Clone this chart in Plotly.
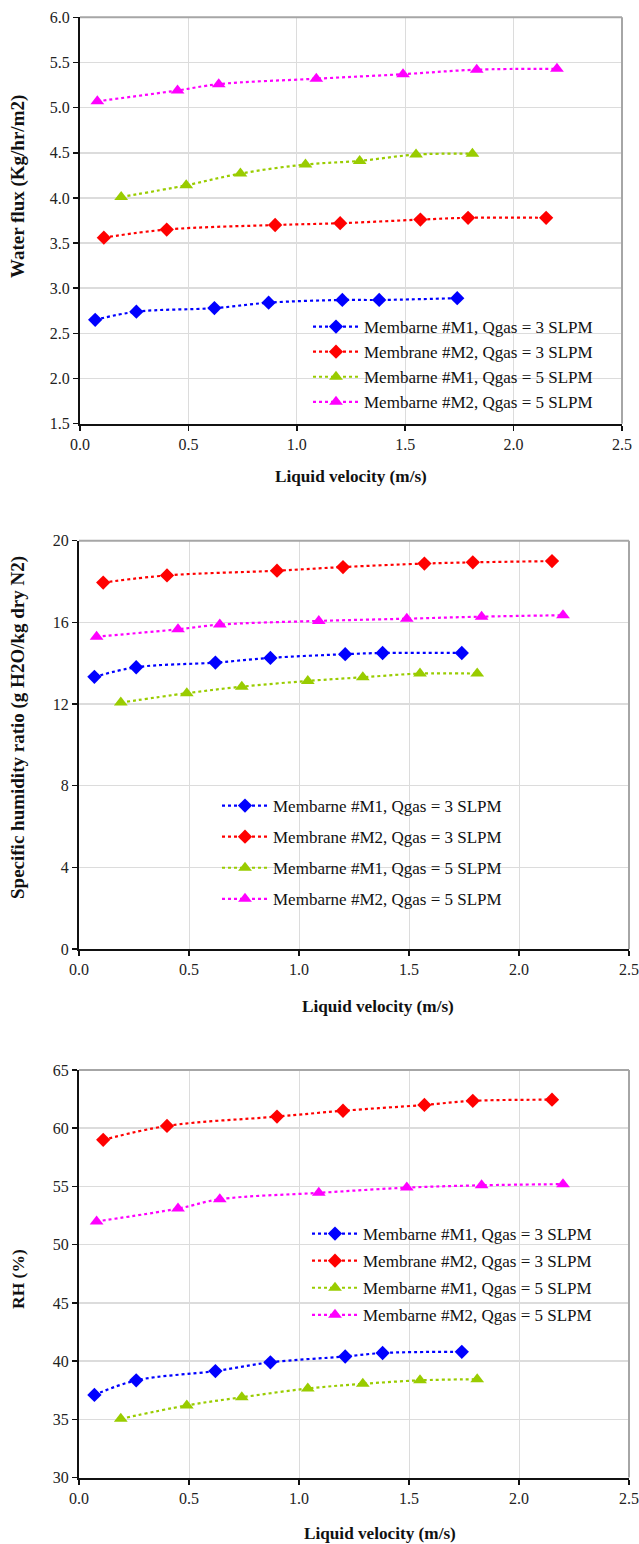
import plotly.graph_objects as go

W, H = 639, 1544

# ---------------- data ----------------
names = ["Membarne #M1, Qgas = 3 SLPM", "Membrane #M2, Qgas = 3 SLPM",
         "Membarne #M1, Qgas = 5 SLPM", "Membarne #M2, Qgas = 5 SLPM"]
colors = ["#0000FF", "#FF0000", "#99CC00", "#FF00FF"]
symbols = ["diamond", "diamond", "triangle-up", "triangle-up"]

x_m1_3 = [0.07, 0.26, 0.62, 0.87, 1.21, 1.38, 1.74]
x_m2_3 = [0.11, 0.40, 0.90, 1.20, 1.57, 1.79, 2.15]
x_m1_5 = [0.19, 0.49, 0.74, 1.04, 1.29, 1.55, 1.81]
x_m2_5 = [0.08, 0.45, 0.64, 1.09, 1.49, 1.83, 2.20]

flux_m1_3 = [2.65, 2.74, 2.78, 2.84, 2.87, 2.87, 2.89]
flux_m2_3 = [3.56, 3.65, 3.70, 3.72, 3.76, 3.78, 3.78]
flux_m1_5 = [4.01, 4.14, 4.27, 4.37, 4.41, 4.48, 4.49]
flux_m2_5 = [5.07, 5.19, 5.26, 5.32, 5.37, 5.42, 5.43]

hum_m1_3 = [13.33, 13.80, 14.03, 14.26, 14.44, 14.50, 14.50]
hum_m2_3 = [17.95, 18.30, 18.53, 18.71, 18.88, 18.94, 19.00]
hum_m1_5 = [12.07, 12.53, 12.85, 13.13, 13.31, 13.49, 13.49]
hum_m2_5 = [15.30, 15.66, 15.89, 16.07, 16.18, 16.28, 16.35]

rh_m1_3 = [37.1, 38.35, 39.15, 39.9, 40.4, 40.7, 40.8]
rh_m2_3 = [59.0, 60.2, 61.0, 61.5, 62.0, 62.35, 62.45]
rh_m1_5 = [35.05, 36.2, 36.9, 37.65, 38.05, 38.35, 38.45]
rh_m2_5 = [52.0, 53.1, 53.9, 54.45, 54.9, 55.1, 55.2]

x_title = "Liquid velocity (m/s)"
y_titles = ["Water flux (Kg/hr/m2)", "Specific humidity ratio (g H2O/kg dry N2)", "RH (%)"]

xs = [x_m1_3, x_m2_3, x_m1_5, x_m2_5]
panels = [
    [flux_m1_3, flux_m2_3, flux_m1_5, flux_m2_5],
    [hum_m1_3, hum_m2_3, hum_m1_5, hum_m2_5],
    [rh_m1_3, rh_m2_3, rh_m1_5, rh_m2_5],
]
y_ranges = [[1.5, 6.0], [0, 20], [30, 65]]
y_dticks = [0.5, 4, 5]
y_formats = [".1f", "d", "d"]

# ---------------- layout geometry (pixels) ----------------
def px(x):
    return x / W

def py(y):
    return 1 - y / H

plot_boxes = [  # left, right, top, bottom in px
    (80, 622, 17.3, 423.7),
    (79, 629, 540.7, 949.0),
    (79, 629, 1070.0, 1477.6),
]
legend_pos = [  # left, top, gap
    (308, 309, 0),
    (217, 788, 6),
    (307, 1216, 2),
]
legend_boxes = [  # white areas hiding gridlines: left, right, top, bottom
    (293, 619, 312, 413),
    (196, 526, 786, 913),
    (286, 617, 1220, 1331),
]
xtitle_pos = [(351, 476), (378, 1006), (380, 1533)]
ytitle_pos = [(18, 187), (18, 728), (18, 1279)]
ytitle_size = [19, 19, 17.5]

SERIF = "Liberation Serif"

fig = go.Figure()
layout = dict(width=W, height=H, margin=dict(l=0, r=0, t=0, b=0, autoexpand=False),
              paper_bgcolor="white", plot_bgcolor="white", showlegend=True,
              font=dict(family=SERIF, size=16, color="#111"))
shapes = []
annotations = []

for p in range(3):
    sfx = "" if p == 0 else str(p + 1)
    xa, ya = "x" + sfx, "y" + sfx
    leg = "legend" + sfx
    for i in range(4):
        fig.add_trace(go.Scatter(
            x=xs[i], y=panels[p][i], name=names[i], mode="lines+markers",
            xaxis=xa, yaxis=ya, legend=leg, legendgroup=f"p{p}_{i}",
            line=dict(color=colors[i], width=2.2, dash="3px,3px", shape="spline", smoothing=1.0),
            marker=dict(symbol=symbols[i], size=11 if symbols[i] == "diamond" else 12,
                        color=colors[i], line=dict(width=0)),
        ))
    l, r, t, b = plot_boxes[p]
    layout["xaxis" + sfx] = dict(
        domain=[px(l), px(r)], anchor=ya, range=[0, 2.5], dtick=0.5, tick0=0,
        tickformat=".1f", showgrid=True, gridcolor="#dcdcdc", gridwidth=1,
        showline=True, linecolor="#111", linewidth=2, ticks="outside", ticklen=5,
        tickcolor="#111", tickwidth=1.5, zeroline=False, automargin=False,
        tickfont=dict(family=SERIF, size=16, color="#222"), fixedrange=True)
    layout["yaxis" + sfx] = dict(
        domain=[py(b), py(t)], anchor=xa, range=y_ranges[p], dtick=y_dticks[p],
        tick0=y_ranges[p][0], tickformat=y_formats[p], showgrid=True,
        gridcolor="#dcdcdc", gridwidth=1.5, automargin=False,
        showline=True, linecolor="#111", linewidth=2, ticks="outside", ticklen=5,
        tickcolor="#111", tickwidth=1.5, zeroline=False,
        tickfont=dict(family=SERIF, size=16, color="#222"), fixedrange=True)
    # white legend area covering gridlines
    bl, br, bt, bb = legend_boxes[p]
    shapes.append(dict(type="rect", xref="paper", yref="paper", layer="between",
                       x0=px(bl), x1=px(br), y0=py(bb), y1=py(bt),
                       fillcolor="white", line=dict(width=0)))
    # gray top / right border
    shapes.append(dict(type="line", xref="paper", yref="paper",
                       x0=px(l), x1=px(r), y0=py(t), y1=py(t),
                       line=dict(color="#a6a6a6", width=2)))
    shapes.append(dict(type="line", xref="paper", yref="paper",
                       x0=px(r), x1=px(r), y0=py(t), y1=py(b),
                       line=dict(color="#a6a6a6", width=2)))
    lx, lt, gap = legend_pos[p]
    layout[leg] = dict(x=px(lx), y=py(lt), xanchor="left", yanchor="top",
                       bgcolor="rgba(0,0,0,0)", borderwidth=0, tracegroupgap=gap,
                       itemwidth=46, font=dict(family=SERIF, size=17, color="#111"),
                       itemclick=False, itemdoubleclick=False)
    xt = xtitle_pos[p]
    annotations.append(dict(text="<b>" + x_title + "</b>", xref="paper", yref="paper",
                            x=px(xt[0]), y=py(xt[1]), showarrow=False,
                            xanchor="center", yanchor="middle",
                            font=dict(family=SERIF, size=17.2, color="#111")))
    yt = ytitle_pos[p]
    annotations.append(dict(text="<b>" + y_titles[p] + "</b>", xref="paper", yref="paper",
                            x=px(yt[0]), y=py(yt[1]), showarrow=False, textangle=-90,
                            xanchor="center", yanchor="middle",
                            font=dict(family=SERIF, size=ytitle_size[p], color="#111")))

layout["shapes"] = shapes
layout["annotations"] = annotations
fig.update_layout(**layout)
fig.write_html("out.html", config={"displayModeBar": False, "staticPlot": True},
               post_script="document.body.style.margin='0';document.body.style.padding='0';"
                           "document.body.style.overflow='hidden';")
